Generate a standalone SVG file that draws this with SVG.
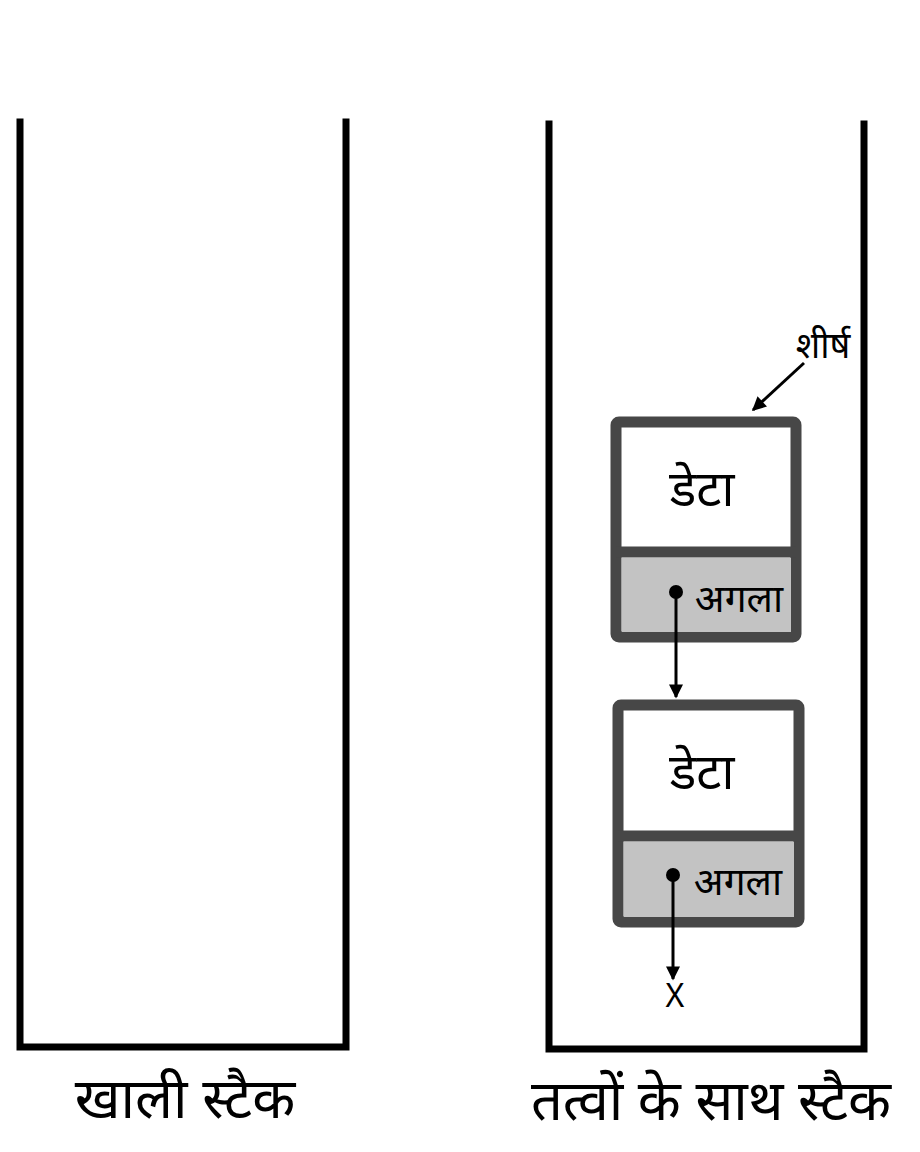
<svg xmlns="http://www.w3.org/2000/svg" width="920" height="1152" viewBox="0 0 920 1152">
<style>
.stack{fill:none;stroke:#000;stroke-width:7;stroke-linecap:square}
.box{fill:#fff;stroke:#474747;stroke-width:11;stroke-linejoin:round}
.next{fill:#c3c3c3}
.div{stroke:#474747;stroke-width:11}
.t{font-family:"Noto Sans Devanagari","Lohit Devanagari","Noto Sans","Liberation Sans",sans-serif;fill:#000;text-anchor:middle}
.conn{stroke:#000;stroke-width:3;fill:none}
</style>
<defs>
<marker id="ah2" viewBox="0 0 10 10" refX="9" refY="5" markerWidth="16" markerHeight="14" orient="auto" markerUnits="userSpaceOnUse">
<path d="M0,0 L10,5 L0,10 z" fill="#000"/>
</marker>
</defs>
<g id="empty-stack">
<path class="stack" d="M20,122 V1047 H346 V122"/>
<text class="t" x="185" y="1118" font-size="56">खाली स्टैक</text>
</g>
<g id="full-stack">
<path class="stack" d="M549,124 V1049 H864 V124"/>
<text class="t" x="711" y="1120" font-size="56">तत्वों के साथ स्टैक</text>
</g>
<g id="node1">
<rect class="box" x="616" y="422" width="180" height="215" rx="3"/>
<rect class="next" x="622" y="558" width="169" height="74"/>
<line class="div" x1="616" y1="552" x2="796" y2="552"/>
<text class="t" x="702" y="506" font-size="50">डेटा</text>
<text class="t" x="739" y="612" font-size="39">अगला</text>
<circle cx="676" cy="592" r="7" fill="#000"/>
</g>
<g id="node2">
<rect class="box" x="618" y="705" width="181" height="217" rx="3"/>
<rect class="next" x="624" y="842" width="170" height="75"/>
<line class="div" x1="618" y1="836" x2="799" y2="836"/>
<text class="t" x="702" y="789" font-size="50">डेटा</text>
<text class="t" x="738" y="895" font-size="39">अगला</text>
<circle cx="673" cy="875" r="7" fill="#000"/>
</g>
<g id="head-label">
<text class="t" x="823" y="358" font-size="36">शीर्ष</text>
</g>
<g id="null-label">
<text class="t" x="675" y="1007" font-size="32" font-family="Liberation Sans, sans-serif">X</text>
</g>
<g id="connectors">
<line class="conn" x1="804" y1="363" x2="753" y2="410" marker-end="url(#ah2)"/>
<line class="conn" x1="676" y1="592" x2="676" y2="697" marker-end="url(#ah2)"/>
<line class="conn" x1="673" y1="875" x2="673" y2="979" marker-end="url(#ah2)"/>
</g>
</svg>
